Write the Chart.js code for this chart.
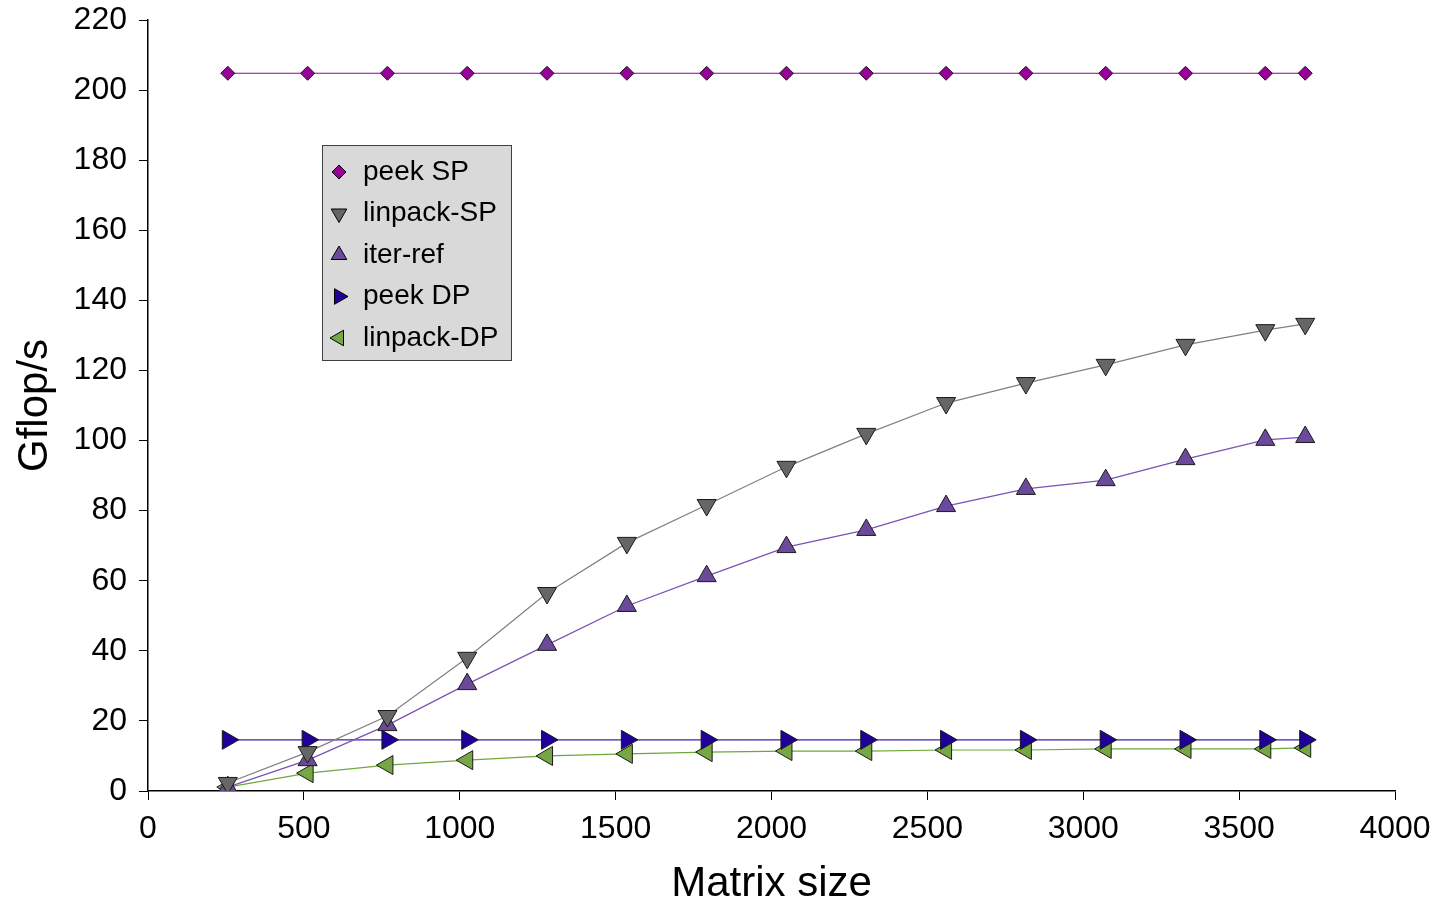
<!DOCTYPE html>
<html>
<head>
<meta charset="utf-8">
<script src="https://cdn.jsdelivr.net/npm/chart.js@4.4.1/dist/chart.umd.min.js"></script>
<style>
    html, body { margin: 0; padding: 0; background: #fff; }
    #wrap { width: 1437px; height: 904px; position: relative; }
</style>
</head>
<body>
<div id="wrap"><canvas id="gflopChart"></canvas></div>
<script>
const matrixSizes = [256, 512, 768, 1024, 1280, 1536, 1792, 2048, 2304, 2560, 2816, 3072, 3328, 3584, 3712];
const peekSP = [204.8, 204.8, 204.8, 204.8, 204.8, 204.8, 204.8, 204.8, 204.8, 204.8, 204.8, 204.8, 204.8, 204.8, 204.8];
const linpackSP = [2.3, 11.1, 21.4, 38, 56.5, 70.8, 81.6, 92.5, 101.9, 110.7, 116.4, 121.6, 127.3, 131.5, 133.3];
const iterRef = [1.1, 8.8, 18.8, 30.5, 41.7, 52.8, 61.3, 69.6, 74.5, 81.3, 86.2, 88.7, 94.7, 100.2, 101];
const peekDP = [14.6, 14.6, 14.6, 14.6, 14.6, 14.6, 14.6, 14.6, 14.6, 14.6, 14.6, 14.6, 14.6, 14.6, 14.6];
const linpackDP = [1.1, 5.1, 7.4, 8.8, 10.0, 10.6, 11.1, 11.4, 11.4, 11.7, 11.7, 12.0, 12.0, 12.0, 12.3];

const FONT = '"Liberation Sans", Arial, sans-serif';

const toPoints = (values) => values.map((v, i) => ({ x: matrixSizes[i], y: v }));

const series = [
    { label: 'peek SP', data: peekSP, line: '#990099', fill: '#990099', style: 'rectRot', rot: 0, r: 7 },
    { label: 'linpack-SP', data: linpackSP, line: '#808080', fill: '#666666', style: 'triangle', rot: 180, r: 11 },
    { label: 'iter-ref', data: iterRef, line: '#7a52b3', fill: '#6b4a9b', style: 'triangle', rot: 0, r: 11 },
    { label: 'peek DP', data: peekDP, line: '#3d1fb0', fill: '#1f0099', style: 'triangle', rot: 90, r: 11 },
    { label: 'linpack-DP', data: linpackDP, line: '#6fa83a', fill: '#77a644', style: 'triangle', rot: -90, r: 11 },
];

// legend box drawn inside the plot, like the original
const boxLegend = {
    id: 'boxLegend',
    afterDraw(chart) {
        const ctx = chart.ctx;
        const x0 = 322, y0 = 145, w = 190, h = 216;
        ctx.save();
        ctx.fillStyle = '#d9d9d9';
        ctx.fillRect(x0, y0, w, h);
        ctx.strokeStyle = '#404040';
        ctx.lineWidth = 1;
        ctx.strokeRect(x0 + 0.5, y0 + 0.5, w - 1, h - 1);
        chart.data.datasets.forEach((ds, i) => {
            const cy = 172 + i * 41.5;
            ctx.fillStyle = ds.pointBackgroundColor;
            ctx.strokeStyle = '#000';
            ctx.lineWidth = 1;
            Chart.helpers.drawPoint(ctx, {
                pointStyle: ds.pointStyle,
                rotation: ds.pointRotation,
                radius: ds.pointStyle === 'rectRot' ? 7 : 9,
                borderWidth: 1,
            }, 339, cy);
            ctx.fillStyle = '#000';
            ctx.font = '28px ' + FONT;
            ctx.textBaseline = 'middle';
            ctx.textAlign = 'left';
            ctx.fillText(ds.label, 363, cy);
        });
        ctx.restore();
    },
};

new Chart(document.getElementById('gflopChart'), {
    type: 'line',
    data: {
        datasets: series.map((s) => ({
            label: s.label,
            data: toPoints(s.data),
            borderColor: s.line,
            borderWidth: 1.2,
            backgroundColor: s.fill,
            pointStyle: s.style,
            pointRotation: s.rot,
            pointRadius: s.r,
            pointHoverRadius: s.r,
            pointBackgroundColor: s.fill,
            pointBorderColor: '#1a1a1a',
            pointBorderWidth: 1,
            tension: 0,
            fill: false,
        })),
    },
    options: {
        responsive: true,
        maintainAspectRatio: false,
        animation: false,
        layout: {
            padding: { top: 20, right: 42, left: 0, bottom: 0 },
        },
        plugins: {
            legend: { display: false },
            tooltip: { enabled: false },
        },
        scales: {
            x: {
                type: 'linear',
                min: 0,
                max: 4000,
                ticks: {
                    stepSize: 500,
                    color: '#000',
                    font: { family: FONT, size: 32 },
                    maxRotation: 0,
                    padding: 10,
                    callback: (v) => String(v),
                },
                grid: { drawOnChartArea: false, drawTicks: true, tickLength: 9, color: '#000' },
                border: { color: '#000', width: 1.5 },
                title: {
                    display: true,
                    text: 'Matrix size',
                    color: '#000',
                    font: { family: FONT, size: 42, lineHeight: 1 },
                    padding: { top: 6, bottom: -1 },
                },
                afterFit: (scale) => {
                    scale.height = 113;
                    scale.paddingLeft = 0;
                    scale.paddingRight = 0;
                },
            },
            y: {
                min: 0,
                max: 220,
                ticks: {
                    stepSize: 20,
                    color: '#000',
                    font: { family: FONT, size: 32 },
                    padding: 12,
                },
                grid: { drawOnChartArea: false, drawTicks: true, tickLength: 9, color: '#000' },
                border: { color: '#000', width: 1.5 },
                title: {
                    display: true,
                    text: 'Gflop/s',
                    color: '#000',
                    font: { family: FONT, size: 42 },
                    padding: { top: 10, bottom: 0 },
                },
                afterFit: (scale) => {
                    scale.width = 148;
                    scale.paddingTop = 0;
                    scale.paddingBottom = 0;
                },
            },
        },
    },
    plugins: [boxLegend],
});
</script>
</body>
</html>
